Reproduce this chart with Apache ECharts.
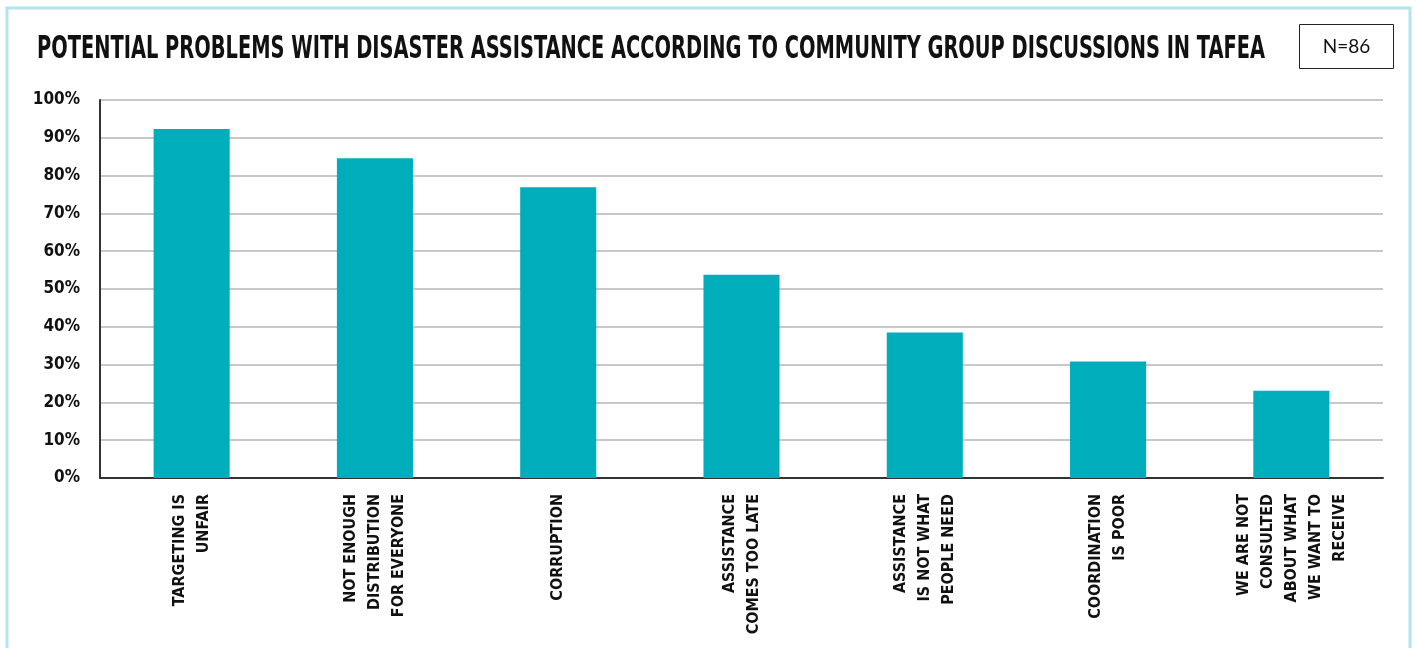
<!DOCTYPE html>
<html>
<head>
<meta charset="utf-8">
<script src="https://cdn.jsdelivr.net/npm/echarts@6/dist/echarts.min.js"></script>
<style>
html,body{margin:0;padding:0;background:#fff;}
#chart{width:1416px;height:648px;}
</style>
</head>
<body>
<div id="chart"></div>
<script>
const titleText = 'POTENTIAL PROBLEMS WITH DISASTER ASSISTANCE ACCORDING TO COMMUNITY GROUP DISCUSSIONS IN TAFEA';
const sampleNote = 'N=86';
const categories = [
  'TARGETING IS\nUNFAIR',
  'NOT ENOUGH\nDISTRIBUTION\nFOR EVERYONE',
  'CORRUPTION',
  'ASSISTANCE\nCOMES TOO LATE',
  'ASSISTANCE\nIS NOT WHAT\nPEOPLE NEED',
  'COORDINATION\nIS POOR',
  'WE ARE NOT\nCONSULTED\nABOUT WHAT\nWE WANT TO\nRECEIVE'
];
const values = [92.3, 84.6, 76.9, 53.8, 38.5, 30.8, 23.1];
const yTicks = [0, 10, 20, 30, 40, 50, 60, 70, 80, 90, 100];

const FONT = '"DejaVu Sans Condensed", "Liberation Sans Narrow", sans-serif';
// measure title so it can be condensed horizontally to the reference width
const TITLE_SIZE = 32;
const mctx = document.createElement('canvas').getContext('2d');
mctx.font = 'bold ' + TITLE_SIZE + 'px "DejaVu Sans Condensed", sans-serif';
const titleW = mctx.measureText(titleText).width;
const titleScale = Math.min(1, 1228 / titleW);

const chart = echarts.init(document.getElementById('chart'), null, {renderer: 'canvas'});
chart.setOption({
  animation: false,
  backgroundColor: '#fff',
  grid: {left: 100, right: 33, top: 100, bottom: 170},
  xAxis: {
    type: 'category',
    data: categories,
    axisTick: {show: false},
    axisLine: {lineStyle: {color: '#333', width: 2}},
    axisLabel: {
      rotate: 90, interval: 0, margin: 16, align: 'right',
      fontFamily: FONT, fontWeight: 'bold', fontSize: 16, lineHeight: 24, color: '#111'
    }
  },
  yAxis: {
    type: 'value', min: yTicks[0], max: yTicks[yTicks.length - 1], interval: 10,
    axisLine: {show: true, lineStyle: {color: '#333', width: 2}},
    axisTick: {show: false},
    splitLine: {lineStyle: {color: '#c8c8c8', width: 2}},
    axisLabel: {
      formatter: '{value}%', margin: 20,
      fontFamily: FONT, fontWeight: 'bold', fontSize: 17, color: '#111'
    }
  },
  series: [{
    type: 'bar',
    data: values,
    barWidth: '41.5%',
    itemStyle: {color: '#00adba'}
  }],
  graphic: [
    {type: 'rect', shape: {x: 7, y: 8, width: 1403, height: 700}, style: {fill: null, stroke: '#b3e3eb', lineWidth: 3}, silent: true},
    {type: 'text', x: 37, y: 50, scaleX: titleScale, style: {text: titleText, fontFamily: FONT, fontWeight: 'bold', fontSize: TITLE_SIZE, fill: '#111', align: 'left', verticalAlign: 'middle'}},
    {type: 'rect', shape: {x: 1299.5, y: 24.5, width: 94, height: 44}, style: {fill: '#fff', stroke: '#222', lineWidth: 1}},
    {type: 'text', x: 1346.5, y: 47, style: {text: sampleNote, fontFamily: '"Lato", "Noto Sans", sans-serif', fontSize: 19, fill: '#111', align: 'center', verticalAlign: 'middle'}}
  ]
});
</script>
</body>
</html>
